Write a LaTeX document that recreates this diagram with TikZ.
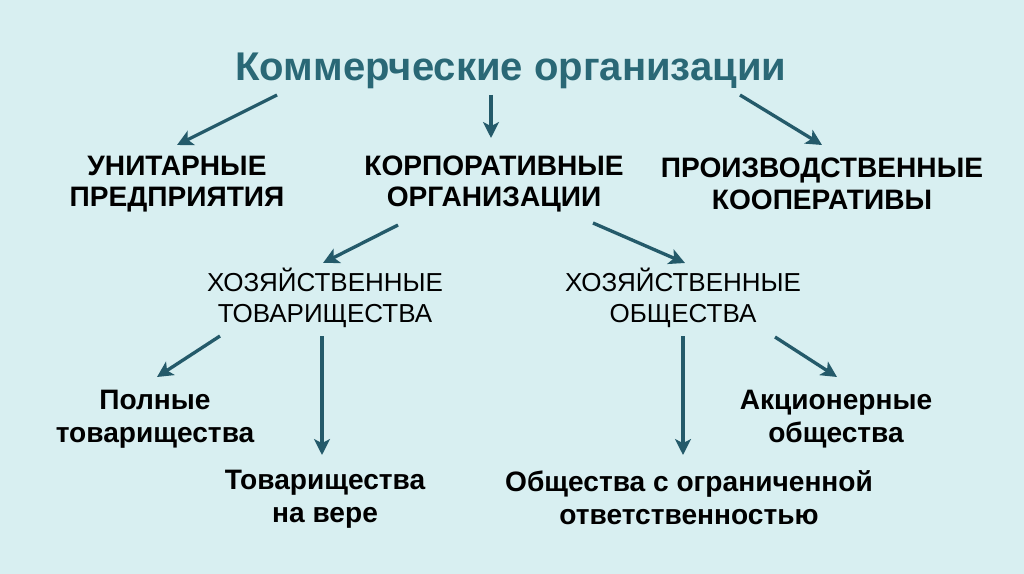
\documentclass[tikz,border=0pt]{standalone}
\usepackage{fontspec}
\setmainfont{Liberation Sans}
\usepackage{xcolor}
\usepackage{tikz}
\usetikzlibrary{arrows.meta,positioning}

\definecolor{bgcyan}{RGB}{216,239,241}
\definecolor{titleteal}{RGB}{42,104,118}
\definecolor{arrowteal}{RGB}{36,90,106}

\tikzset{
    arr/.style={arrowteal, line width=1.9pt, -{Stealth[length=9pt,width=9pt,inset=2.2pt]}},
    kind/.style={font=\bfseries\fontsize{16}{18}\selectfont, align=center, inner sep=0pt},
    sub/.style={font=\fontsize{14.8}{17.6}\selectfont, align=center, inner sep=0pt},
    leaf/.style={font=\bfseries\fontsize{16}{18.8}\selectfont, align=center, inner sep=0pt}
}

\begin{document}
\begin{tikzpicture}[x=0.02cm, y=-0.02cm]
    % background
    \fill[bgcyan] (0,0) rectangle (1024,574);
    \useasboundingbox (0,0) rectangle (1024,574);

    % title
    \node[font=\bfseries\fontsize{22.8}{26}\selectfont, text=titleteal, inner sep=0pt] (title) at (511,71) {Коммерческие организации};

    % first level
    \node[kind] (unit) at (177,184) {УНИТАРНЫЕ\\ПРЕДПРИЯТИЯ};
    \node[kind] (corp) at (494,184) {КОРПОРАТИВНЫЕ\\ОРГАНИЗАЦИИ};
    \node[kind] (coop) at (822,184) {ПРОИЗВОДСТВЕННЫЕ\\КООПЕРАТИВЫ};

    % second level
    \node[sub] (partn) at (325,298) {ХОЗЯЙСТВЕННЫЕ\\ТОВАРИЩЕСТВА};
    \node[sub] (soc) at (683,298) {ХОЗЯЙСТВЕННЫЕ\\ОБЩЕСТВА};

    % leaves
    \node[leaf] (full) at (155,419) {Полные\\товарищества};
    \node[leaf] (faith) at (325,499) {Товарищества\\на вере};
    \node[leaf] (ooo) at (689,498) {Общества с ограниченной\\ответственностью};
    \node[leaf] (joint) at (836,419) {Акционерные\\общества};

    % arrows
    \draw[arr] ([shift={(-234,24)}]title.center) -- ([shift={(0,-39)}]unit.center);
    \draw[arr] ([shift={(-20,24)}]title.center) -- ([shift={(-3,-46)}]corp.center);
    \draw[arr] ([shift={(229,24)}]title.center) -- ([shift={(0,-39)}]coop.center);
    \draw[arr] ([shift={(-96,41)}]corp.center) -- ([shift={(-2,-35)}]partn.center);
    \draw[arr] ([shift={(99,39)}]corp.center) -- ([shift={(2,-35)}]soc.center);
    \draw[arr] ([shift={(-105,38)}]partn.center) -- ([shift={(2,-42)}]full.center);
    \draw[arr] ([shift={(-3,38)}]partn.center) -- ([shift={(-3,-44)}]faith.center);
    \draw[arr] ([shift={(0,38)}]soc.center) -- ([shift={(-6,-43)}]ooo.center);
    \draw[arr] ([shift={(92,39)}]soc.center) -- ([shift={(1,-42)}]joint.center);
\end{tikzpicture}
\end{document}
